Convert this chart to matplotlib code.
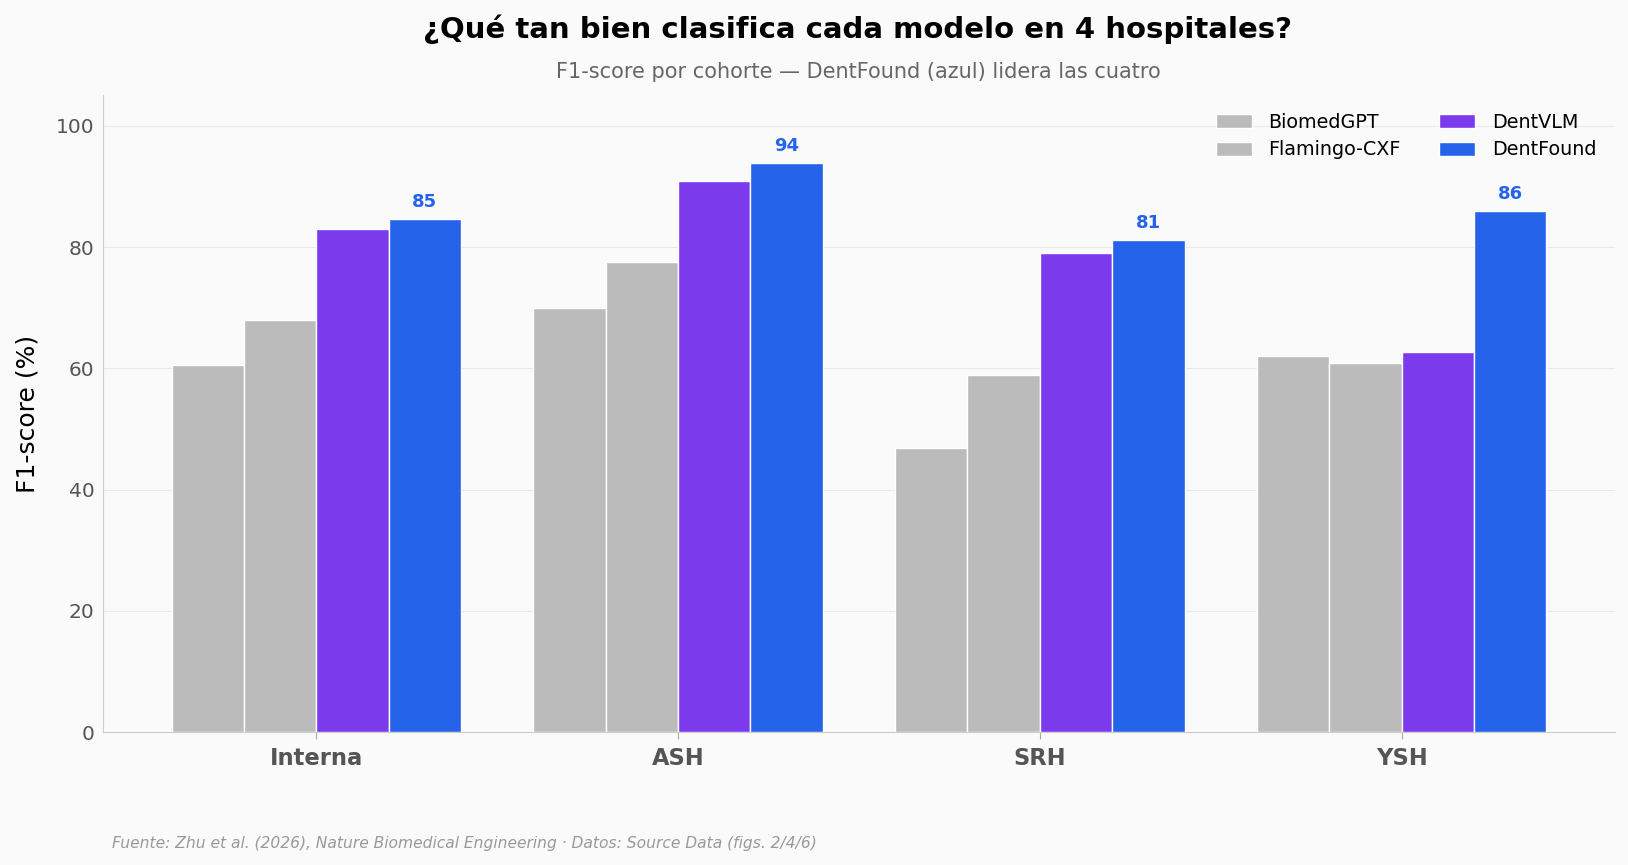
import matplotlib
matplotlib.use("Agg")
import matplotlib.pyplot as plt
import numpy as np

cohorts = ["Interna", "ASH", "SRH", "YSH"]
models = ["BiomedGPT", "Flamingo-CXF", "DentVLM", "DentFound"]
biomedgpt = [60.5, 69.9, 46.9, 62.1]
flamingo = [68.0, 77.6, 58.9, 60.8]
dentvlm = [82.9, 90.9, 79.1, 62.7]
dentfound = [84.6, 93.9, 81.2, 86.0]
colors = ["#bbbbbb", "#bbbbbb", "#7c3aed", "#2563eb"]

series = [biomedgpt, flamingo, dentvlm, dentfound]

fig = plt.figure(figsize=(16.28, 8.65), dpi=100, facecolor="#fafafa")
ax = fig.add_axes([0.0632, 0.1536, 0.9288, 0.736])
ax.set_facecolor("#fafafa")

x = np.arange(len(cohorts))
w = 0.2
for i, (name, vals, c) in enumerate(zip(models, series, colors)):
    bars = ax.bar(x + (i - 1.5) * w, vals, width=w, color=c, edgecolor="white",
                  linewidth=1, label=name, zorder=3)
    if name == "DentFound":
        for b, v in zip(bars, vals):
            ax.text(b.get_x() + b.get_width() / 2, v + 1.3, f"{round(v):d}",
                    ha="center", va="bottom", fontsize=13, fontweight="bold",
                    color="#2563eb")

ax.set_xlim(-0.59, 3.59)
ax.set_ylim(0, 105)
ax.set_yticks([0, 20, 40, 60, 80, 100])
ax.set_xticks(x)
ax.set_xticklabels(cohorts, fontsize=16.3, fontweight="bold", color="#555555")
ax.tick_params(axis="y", length=0, labelsize=14.5, labelcolor="#555555", pad=6)
ax.tick_params(axis="x", length=5, color="#aaaaaa", pad=6)
ax.grid(axis="y", color="#e8e8e8", linewidth=0.8, zorder=0)
for s in ["top", "right"]:
    ax.spines[s].set_visible(False)
for s in ["left", "bottom"]:
    ax.spines[s].set_color("#cccccc")
ax.set_ylabel("F1-score (%)", fontsize=18, labelpad=12)

ax.legend(ncol=2, frameon=False, fontsize=13.8, loc="upper right",
          bbox_to_anchor=(0.999, 1.0), handlelength=1.9, handleheight=0.75,
          handletextpad=0.85, columnspacing=2.0, labelspacing=0.45)

fig.text(0.527, 0.966, "¿Qué tan bien clasifica cada modelo en 4 hospitales?",
         ha="center", va="center", fontsize=21, fontweight="bold")
fig.text(0.527, 0.917, "F1-score por cohorte — DentFound (azul) lidera las cuatro",
         ha="center", va="center", fontsize=15, color="#666666")
fig.text(0.069, 0.025, "Fuente: Zhu et al. (2026), Nature Biomedical Engineering · Datos: Source Data (figs. 2/4/6)",
         ha="left", va="center", fontsize=11.2, style="italic", color="#999999")

fig.savefig("out.png", dpi=100, facecolor="#fafafa")
